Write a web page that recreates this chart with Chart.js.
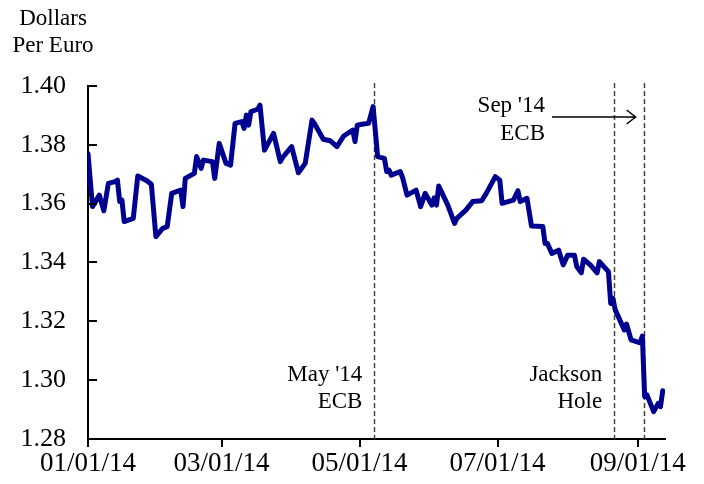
<!DOCTYPE html>
<html>
<head>
<meta charset="utf-8">
<script src="https://cdn.jsdelivr.net/npm/chart.js@4.4.0/dist/chart.umd.min.js"></script>
<style>
  html, body { margin: 0; padding: 0; background: #fff; }
  #wrap { width: 704px; height: 484px; }
</style>
</head>
<body>
<div id="wrap"><canvas id="fxChart" width="704" height="484"></canvas></div>
<script>
// EUR/USD 2014, dollars per euro
const dates = [
  '01/01','01/03','01/06','01/08','01/10','01/13','01/14','01/15','01/16','01/17',
  '01/21','01/23','01/27','01/29','01/31','02/03','02/05','02/07','02/11','02/12',
  '02/13','02/17','02/18','02/20','02/21','02/25','02/26','02/28','03/03','03/05',
  '03/07','03/10','03/11','03/12','03/13','03/14','03/17','03/18','03/20','03/24',
  '03/27','03/28','04/01','04/04','04/07','04/10','04/11','04/15','04/18','04/21',
  '04/24','04/28','04/29','04/30','05/02','05/05','05/07','05/09','05/12','05/13',
  '05/14','05/15','05/19','05/20','05/22','05/26','05/28','05/30','06/02','06/03',
  '06/04','06/05','06/09','06/12','06/13','06/17','06/20','06/24','06/26','06/30',
  '07/02','07/03','07/08','07/10','07/11','07/14','07/16','07/21','07/22','07/23',
  '07/25','07/28','07/30','08/01','08/04','08/05','08/07','08/08','08/11','08/14',
  '08/15','08/19','08/20','08/21','08/22','08/26','08/27','08/29','09/02','09/03',
  '09/04','09/05','09/08','09/10','09/11','09/12'
];
const rates = [
  1.3770,1.3590,1.3629,1.3576,1.3669,1.3675,1.3680,1.3607,1.3612,1.3539,
  1.3550,1.3694,1.3678,1.3666,1.3488,1.3516,1.3522,1.3635,1.3646,1.3590,
  1.3686,1.3703,1.3760,1.3720,1.3748,1.3743,1.3686,1.3805,1.3737,1.3731,
  1.3873,1.3879,1.3856,1.3901,1.3867,1.3913,1.3921,1.3935,1.3782,1.3839,
  1.3743,1.3757,1.3794,1.3705,1.3737,1.3884,1.3873,1.3819,1.3814,1.3794,
  1.3830,1.3850,1.3811,1.3867,1.3870,1.3873,1.3930,1.3760,1.3754,1.3709,
  1.3714,1.3697,1.3709,1.3689,1.3629,1.3646,1.3590,1.3635,1.3595,1.3620,
  1.3595,1.3660,1.3595,1.3533,1.3550,1.3578,1.3607,1.3610,1.3635,1.3692,
  1.3680,1.3601,1.3612,1.3644,1.3607,1.3618,1.3524,1.3522,1.3465,1.3465,
  1.3431,1.3442,1.3392,1.3425,1.3425,1.3386,1.3365,1.3411,1.3392,1.3365,
  1.3403,1.3369,1.3261,1.3278,1.3239,1.3171,1.3191,1.3137,1.3127,1.3150,
  1.2944,1.2950,1.2893,1.2921,1.2910,1.2964
];
const xTickLabels = ['01/01/14', '03/01/14', '05/01/14', '07/01/14', '09/01/14'];
const yMin = 1.28, yMax = 1.40, yStep = 0.02;
const eventDates = ['05/08', '08/22', '09/04'];
const eventLabels = [["May '14", 'ECB'], ['Jackson', 'Hole'], ["Sep '14", 'ECB']];
const unitLabel = ['Dollars', 'Per Euro'];

const SERIF = '"Liberation Serif", "Times New Roman", serif';

// days since 1 Jan 2014
function dayOf(md) {
  const p = md.split('/');
  return (Date.UTC(2014, +p[0] - 1, +p[1]) - Date.UTC(2014, 0, 1)) / 864e5;
}
const xTickDays = xTickLabels.map(dayOf);

const extras = {
  id: 'extras',
  beforeDatasetsDraw(chart) {
    const { ctx, chartArea: a, scales: { x } } = chart;
    ctx.save();
    ctx.strokeStyle = '#444';
    ctx.lineWidth = 1.5;
    ctx.setLineDash([5, 3]);
    eventDates.forEach(d => {
      const px = Math.round(x.getPixelForValue(dayOf(d)) - 1) + 0.5;
      ctx.beginPath();
      ctx.moveTo(px, a.top - 3);
      ctx.lineTo(px, a.bottom);
      ctx.stroke();
    });
    ctx.restore();
  },
  afterDraw(chart) {
    const { ctx, chartArea: a, scales: { x, y } } = chart;
    ctx.save();
    // inward y ticks
    ctx.strokeStyle = '#000';
    ctx.lineWidth = 2;
    for (let v = yMin + yStep; v <= yMax + 1e-9; v += yStep) {
      const py = Math.round(y.getPixelForValue(v));
      ctx.beginPath();
      ctx.moveTo(a.left, py);
      ctx.lineTo(a.left + 9, py);
      ctx.stroke();
    }

    ctx.fillStyle = '#000';
    ctx.font = '23px ' + SERIF;
    ctx.textAlign = 'center';
    ctx.fillText(unitLabel[0], 53, 25);
    ctx.fillText(unitLabel[1], 53, 52);

    ctx.textAlign = 'right';
    const ex = eventDates.map(d => x.getPixelForValue(dayOf(d)));
    ctx.fillText(eventLabels[0][0], ex[0] - 13, 381);
    ctx.fillText(eventLabels[0][1], ex[0] - 13, 408);
    ctx.fillText(eventLabels[1][0], ex[1] - 13, 381);
    ctx.fillText(eventLabels[1][1], ex[1] - 13, 408);
    ctx.fillText(eventLabels[2][0], 545, 112);
    ctx.fillText(eventLabels[2][1], 545, 140);

    // arrow to the September meeting
    const tip = ex[2] - 9, ay = 117;
    ctx.lineWidth = 1.5;
    ctx.beginPath();
    ctx.moveTo(552, ay);
    ctx.lineTo(tip, ay);
    ctx.moveTo(tip - 9, ay - 7);
    ctx.lineTo(tip, ay);
    ctx.lineTo(tip - 9, ay + 7);
    ctx.stroke();
    ctx.restore();
  }
};

new Chart(document.getElementById('fxChart'), {
  type: 'line',
  data: {
    datasets: [{
      data: dates.map((d, i) => ({ x: dayOf(d), y: rates[i] })),
      borderColor: '#000090',
      borderWidth: 5,
      pointRadius: 0,
      tension: 0,
      borderJoinStyle: 'round',
      borderCapStyle: 'round'
    }]
  },
  options: {
    responsive: false,
    animation: false,
    devicePixelRatio: 1,
    layout: { padding: { top: 86, right: 39, left: 0, bottom: 0 } },
    plugins: { legend: { display: false }, tooltip: { enabled: false } },
    scales: {
      x: {
        type: 'linear',
        min: 0,
        max: 255,
        afterBuildTicks: s => { s.ticks = xTickDays.map(v => ({ value: v })); },
        afterFit: s => { s.height = 45; },
        ticks: {
          autoSkip: false,
          maxRotation: 0,
          color: '#000',
          padding: 1,
          font: { family: SERIF, size: 27 },
          callback: v => xTickLabels[xTickDays.indexOf(v)]
        },
        grid: { drawOnChartArea: false, drawTicks: true, tickLength: 8, color: '#000', lineWidth: 2 },
        border: { display: true, color: '#000', width: 2 }
      },
      y: {
        min: yMin,
        max: yMax,
        afterFit: s => { s.width = 88; },
        ticks: {
          stepSize: yStep,
          color: '#000',
          padding: 22,
          font: { family: SERIF, size: 26 },
          callback: v => v.toFixed(2)
        },
        grid: { drawOnChartArea: false, drawTicks: false },
        border: { display: true, color: '#000', width: 2 }
      }
    }
  },
  plugins: [extras]
});
</script>
</body>
</html>
